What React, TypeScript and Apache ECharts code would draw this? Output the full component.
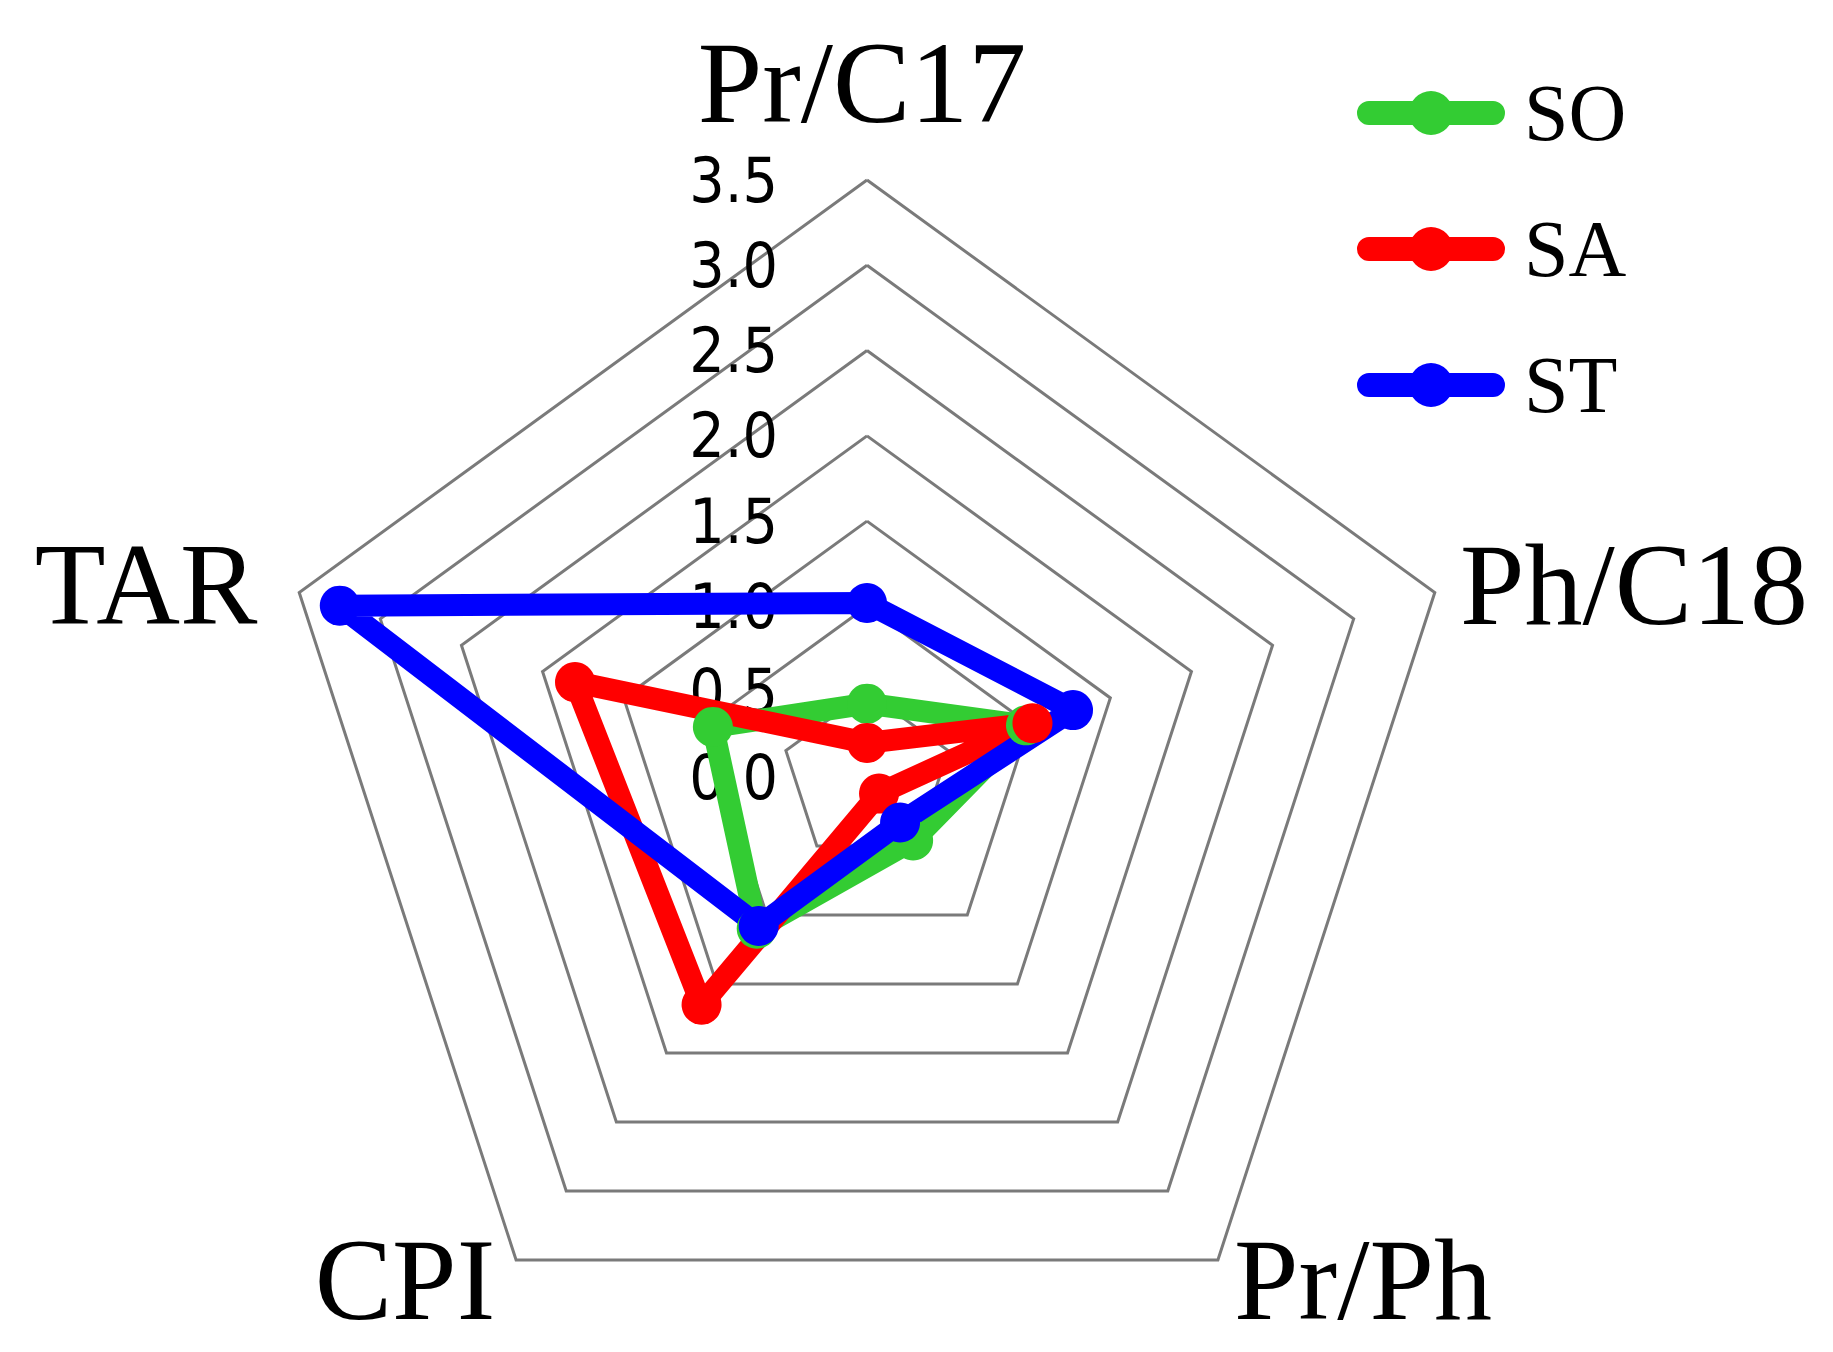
import React, { useEffect, useRef } from "react";
import * as echarts from "echarts";

// Indicators in ECharts order (counter-clockwise starting at top)
const INDICATORS = ["Pr/C17", "TAR", "CPI", "Pr/Ph", "Ph/C18"];
const SO = [0.43, 0.95, 1.1, 0.46, 0.98];
const SA = [0.2, 1.8, 1.65, 0.12, 1.02];
const ST = [1.02, 3.25, 1.08, 0.33, 1.27];
const SERIES_NAMES = ["SO", "SA", "ST"];
const SERIES_COLORS = ["#33cc33", "#ff0000", "#0000ff"];
const TICK_LABELS = ["0.0", "0.5", "1.0", "1.5", "2.0", "2.5", "3.0", "3.5"];
const AXIS_MAX = 3.5;

// label positions for axis names (x, y centre)
const NAME_POS: Record<string, [number, number]> = {
  "Pr/C17": [862, 83],
  "TAR": [146, 585],
  "CPI": [405, 1280],
  "Pr/Ph": [1363, 1280],
  "Ph/C18": [1634, 585],
};

const CX = 867;
const CY = 777;
const R = 597;

const LEGEND_ICON =
  "path://M12,10 L136,10 A12,12 0 0 1 136,34 L12,34 A12,12 0 0 1 12,10 Z M52,22 A22,22 0 1 1 96,22 A22,22 0 1 1 52,22 Z";

export default function App() {
  const ref = useRef<HTMLDivElement>(null);
  useEffect(() => {
    if (!ref.current) return;
    const chart = echarts.init(ref.current, undefined, { renderer: "svg" });
    const values = [SO, SA, ST];
    chart.setOption({
      animation: false,
      backgroundColor: "#ffffff",
      legend: {
        data: SERIES_NAMES,
        orient: "vertical",
        left: 1352,
        top: 68,
        itemWidth: 148,
        itemHeight: 44,
        itemGap: 56,
        icon: LEGEND_ICON,
        textStyle: {
          fontFamily: "'Liberation Serif', 'Times New Roman', serif",
          fontSize: 80,
          color: "#000",
          lineHeight: 44,
          padding: [0, 0, 0, 14],
        },
      },
      radar: {
        center: [CX, CY],
        radius: R,
        startAngle: 90,
        shape: "polygon",
        splitNumber: 7,
        indicator: INDICATORS.map((n) => ({ name: n, min: 0, max: AXIS_MAX })),
        axisName: { show: false },
        axisLine: { show: false },
        axisTick: { show: false },
        axisLabel: { show: false },
        splitArea: { show: false },
        splitLine: { lineStyle: { color: "#7a7a7a", width: 3 } },
      },
      grid: { left: 784, top: CY - R, height: R, width: 1 },
      xAxis: { type: "value", show: false },
      yAxis: {
        type: "value",
        min: 0,
        max: AXIS_MAX,
        interval: 0.5,
        axisLine: { show: false },
        axisTick: { show: false },
        splitLine: { show: false },
        axisLabel: {
          margin: 6,
          color: "#000",
          fontSize: 62,
          fontFamily: "'DejaVu Sans Condensed', 'DejaVu Sans Mono', monospace",
          formatter: (v: number) => TICK_LABELS[Math.round(v / 0.5)],
        },
      },
      graphic: INDICATORS.map((n) => ({
        type: "text",
        x: NAME_POS[n][0],
        y: NAME_POS[n][1],
        silent: true,
        style: {
          text: n,
          fill: "#000",
          font: "116px 'Liberation Serif', 'Times New Roman', serif",
          align: "center",
          verticalAlign: "middle",
        },
      })),
      series: [
        {
          type: "radar",
          symbol: "circle",
          symbolSize: 40,
          data: SERIES_NAMES.map((name, i) => ({
            name,
            value: values[i],
            itemStyle: { color: SERIES_COLORS[i] },
            lineStyle: { color: SERIES_COLORS[i], width: 22, join: "round", cap: "round" },
          })),
        },
      ],
    });
    return () => chart.dispose();
  }, []);
  return (
    <div
      ref={ref}
      style={{ position: "absolute", left: 0, top: 0, width: 1833, height: 1352 }}
    />
  );
}
